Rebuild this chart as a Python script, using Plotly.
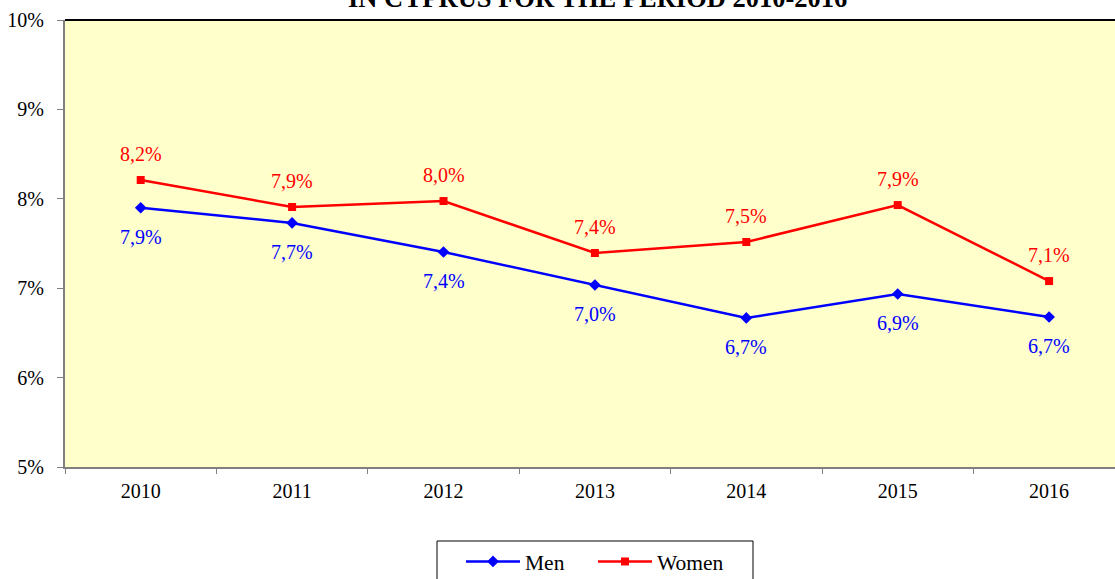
import plotly.graph_objects as go

years = ["2010", "2011", "2012", "2013", "2014", "2015", "2016"]
men = [7.90, 7.73, 7.405, 7.036, 6.667, 6.935, 6.678]
women = [8.21, 7.908, 7.975, 7.394, 7.517, 7.93, 7.08]
y_ticks = [5, 6, 7, 8, 9, 10]
title_text = "IN CYPRUS FOR THE PERIOD 2010-2016"

FONT = "Liberation Serif, Times New Roman, serif"

def fmt(v):
    return f"{v:.1f}".replace(".", ",") + "%"

fig = go.Figure()
fig.add_trace(go.Scatter(x=years, y=men, name="Men", mode="lines+markers",
                         line=dict(color="#0000FF", width=2.5),
                         marker=dict(symbol="diamond", size=9, color="#0000FF")))
fig.add_trace(go.Scatter(x=years, y=women, name="Women", mode="lines+markers",
                         line=dict(color="#FF0000", width=2.5),
                         marker=dict(symbol="square", size=8, color="#FF0000")))

annotations = []
for i, v in enumerate(women):
    annotations.append(dict(x=i, y=v, text=fmt(v), showarrow=False, yshift=26,
                            font=dict(family=FONT, size=20, color="#FF0000")))
for i, v in enumerate(men):
    annotations.append(dict(x=i, y=v, text=fmt(v), showarrow=False, yshift=-29,
                            font=dict(family=FONT, size=20, color="#0000FF")))
annotations.append(dict(xref="paper", yref="paper", x=(597 - 65) / 1050,
                        y=1 + 22 / 447, yanchor="middle", xanchor="center",
                        text="<b>" + title_text + "</b>", showarrow=False,
                        font=dict(family=FONT, size=26.5, color="#000000")))

PW, PH = 1050, 447
fig.update_layout(
    width=1115, height=579,
    margin=dict(l=65, r=0, t=20, b=112),
    paper_bgcolor="#FFFFFF",
    plot_bgcolor="#FFFFCC",
    font=dict(family=FONT, size=20, color="#000000"),
    showlegend=True,
    legend=dict(orientation="h", xref="container", yref="container",
                x=461 / 1115, xanchor="left",
                y=1 - 541 / 579, yanchor="top",
                borderwidth=0, bgcolor="rgba(0,0,0,0)",
                font=dict(family=FONT, size=21.5), entrywidth=63,
                itemwidth=54),
    annotations=annotations,
    shapes=[
        dict(type="line", xref="paper", yref="paper", x0=0, x1=1, y0=1, y1=1,
             line=dict(color="#000000", width=2)),
        dict(type="rect", xref="paper", yref="paper",
             x0=(437 - 65) / PW, x1=(753 - 65) / PW,
             y0=(467 - 541) / PH, y1=(467 - 600) / PH,
             line=dict(color="#000000", width=1), fillcolor="#FFFFFF", layer="below"),
    ],
)
fig.update_xaxes(type="category", range=[-0.5, -0.5 + 1050 / 151.4],
                 showline=True, linecolor="#808080", linewidth=2,
                 ticks="outside", tickson="boundaries", ticklen=5, tickcolor="#808080",
                 ticklabelstandoff=5,
                 showgrid=False, tickfont=dict(family=FONT, size=20, color="#000000"))
fig.update_yaxes(range=[5, 10], tickvals=y_ticks,
                 ticktext=[f"{t}%" for t in y_ticks],
                 showline=True, linecolor="#808080", linewidth=2,
                 ticks="outside", ticklen=6, tickcolor="#808080",
                 ticklabelstandoff=9,
                 showgrid=False, zeroline=False,
                 tickfont=dict(family=FONT, size=20, color="#000000"))

fig.write_html("out.html", config={"displayModeBar": False},
               post_script="document.body.style.margin='0';document.body.style.overflow='hidden';")
